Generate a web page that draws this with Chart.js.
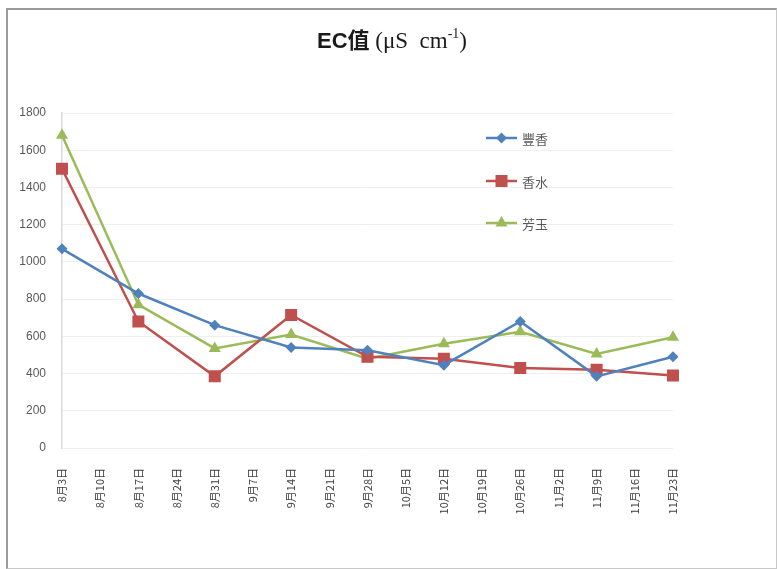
<!DOCTYPE html>
<html>
<head>
<meta charset="utf-8">
<script src="https://cdn.jsdelivr.net/npm/chart.js@4.4.0/dist/chart.umd.min.js"></script>
<style>
  body { margin: 0; background: #fff; }
  #wrap { position: relative; width: 777px; height: 569px; }
  #frame {
    position: absolute; left: 6px; top: 8px; width: 768px; height: 558px;
    border-top: 2px solid #9a9a9a; border-left: 2px solid #9a9a9a;
    border-right: 1px solid #c8c8c8; border-bottom: 1px solid #c8c8c8;
    pointer-events: none;
  }
  canvas { position: absolute; left: 0; top: 0; }
</style>
</head>
<body>
<div id="wrap">
  <canvas id="ecChart" width="777" height="569"></canvas>
  <div id="frame"></div>
</div>
<script>
const dates = ['8月3日', '8月10日', '8月17日', '8月24日', '8月31日', '9月7日', '9月14日', '9月21日', '9月28日',
               '10月5日', '10月12日', '10月19日', '10月26日', '11月2日', '11月9日', '11月16日', '11月23日'];
// measured every two weeks; the weeks between have no value
const fengxiang = [1070, null, 830, null, 660, null, 540, null, 525, null, 445, null, 680, null, 385, null, 490];
const xiangshui = [1500, null, 680, null, 385, null, 715, null, 490, null, 480, null, 430, null, 420, null, 390];
const fangyu    = [1680, null, 770, null, 535, null, 610, null, 480, null, 560, null, 625, null, 505, null, 595];
const yTicks = [0, 200, 400, 600, 800, 1000, 1200, 1400, 1600, 1800];

const seriesNames = ['豐香', '香水', '芳玉'];
const colors = ['#4F81BD', '#C0504D', '#9BBB59'];
const styles = ['rectRot', 'rect', 'triangle'];
const radii = [5.5, 8.5, 7];

const ctx = document.getElementById('ecChart').getContext('2d');

// title with mixed fonts
const titlePlugin = {
    id: 'mixedTitle',
    afterDraw(chart) {
        const c = chart.ctx;
        c.save();
        c.fillStyle = '#1a1a1a';
        c.textBaseline = 'alphabetic';
        const part1 = 'EC值';
        const part2 = ' (μS  cm';
        const sup = '-1';
        const part3 = ')';
        const f1 = 'bold 22px "Liberation Sans", "Noto Sans CJK SC", sans-serif';
        const f2 = '23px "Liberation Serif", serif';
        const f3 = '14px "Liberation Serif", serif';
        c.font = f1; const w1 = c.measureText(part1).width;
        c.font = f2; const w2 = c.measureText(part2).width;
        c.font = f3; const w3 = c.measureText(sup).width;
        c.font = f2; const w4 = c.measureText(part3).width;
        let x = 392 - (w1 + w2 + w3 + w4) / 2;
        const y = 48;
        c.font = f1; c.fillText(part1, x, y); x += w1;
        c.font = f2; c.fillText(part2, x, y); x += w2;
        c.font = f3; c.fillText(sup, x, y - 10); x += w3;
        c.font = f2; c.fillText(part3, x, y);
        c.restore();
    }
};

// legend inside the plot, one entry per row
const legendPlugin = {
    id: 'sideLegend',
    afterDraw(chart) {
        const c = chart.ctx;
        const rows = [138, 181, 223];
        chart.data.datasets.forEach((ds, i) => {
            const y = rows[i];
            c.save();
            c.strokeStyle = ds.borderColor;
            c.lineWidth = 2.5;
            c.beginPath();
            c.moveTo(486, y);
            c.lineTo(517, y);
            c.stroke();
            c.fillStyle = ds.backgroundColor;
            Chart.helpers.drawPoint(c, { pointStyle: ds.pointStyle, radius: ds.pointRadius, borderWidth: 0 }, 501.5, y);
            c.fillStyle = '#595959';
            c.font = '13px "Noto Sans CJK TC", sans-serif';
            c.textBaseline = 'middle';
            c.fillText(ds.label, 522, y + 1);
            c.restore();
        });
    }
};

new Chart(ctx, {
    type: 'line',
    data: {
        labels: dates,
        datasets: [fengxiang, xiangshui, fangyu].map((vals, i) => ({
            label: seriesNames[i],
            data: vals,
            borderColor: colors[i],
            backgroundColor: colors[i],
            borderWidth: 2.5,
            pointStyle: styles[i],
            pointRadius: radii[i],
            pointBorderWidth: 0,
            spanGaps: true,
            tension: 0
        }))
    },
    options: {
        responsive: false,
        animation: false,
        layout: { padding: { top: 113, right: 104, left: 0, bottom: 0 } },
        scales: {
            x: {
                offset: false,
                grid: { display: false },
                border: { display: false },
                ticks: {
                    autoSkip: false,
                    minRotation: 90,
                    maxRotation: 90,
                    padding: 12,
                    color: '#404040',
                    font: { size: 11, family: '"Noto Sans CJK SC", sans-serif' }
                },
                afterFit(scale) { scale.height = 121; }
            },
            y: {
                min: 0,
                max: 1800,
                afterBuildTicks(scale) { scale.ticks = yTicks.map(v => ({ value: v })); },
                grid: { color: '#efefef', drawTicks: false },
                border: { color: '#d9d9d9', width: 1.5 },
                ticks: {
                    padding: 16,
                    color: '#595959',
                    font: { size: 12, family: '"Liberation Sans", sans-serif' },
                    callback: v => String(v)
                },
                afterFit(scale) { scale.width = 62; }
            }
        },
        plugins: {
            legend: { display: false },
            title: { display: false },
            tooltip: { enabled: false }
        }
    },
    plugins: [titlePlugin, legendPlugin]
});
</script>
</body>
</html>
